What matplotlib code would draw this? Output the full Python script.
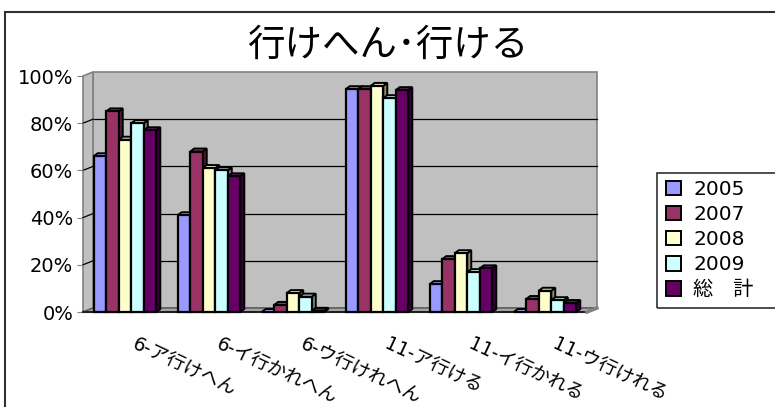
import numpy as np
import matplotlib.pyplot as plt
from matplotlib.patches import Polygon, Rectangle, Patch
from matplotlib import colors as mcolors

plt.rcParams['font.family'] = ['DejaVu Sans', 'Noto Sans CJK JP']

title = '行けへん･行ける'
categories = ['6-ア行けへん', '6-イ行かれへん', '6-ウ行けれへん',
              '11-ア行ける', '11-イ行かれる', '11-ウ行けれる']
series = ['2005', '2007', '2008', '2009', '総　計']
v2005 = [0.66, 0.41, 0.00, 0.944, 0.118, 0.00]
v2007 = [0.85, 0.68, 0.03, 0.944, 0.224, 0.055]
v2008 = [0.73, 0.61, 0.08, 0.958, 0.249, 0.09]
v2009 = [0.80, 0.60, 0.065, 0.906, 0.169, 0.05]
vtotal = [0.77, 0.575, 0.005, 0.94, 0.185, 0.038]
values = [v2005, v2007, v2008, v2009, vtotal]
colors = ['#9999FF', '#993366', '#FFFFCC', '#CCFFFF', '#660066']

W, H = 775, 407
fig = plt.figure(figsize=(W / 100, H / 100), dpi=100)


def fpx(x, y):
    return x / W, 1 - y / H


# front plane of the plot area
left, right, top, bottom = 83, 587, 76, 312
ax = fig.add_axes([left / W, (H - bottom) / H, (right - left) / W, (bottom - top) / H])
n = len(categories)
ax.set_xlim(0, n)
ax.set_ylim(0, 1)
ax.set_facecolor('none')

ppx = (right - left) / n        # pixels per x unit
ppy = (bottom - top)            # pixels per y unit
wdx, wdy = 10 / ppx, 4 / ppy    # wall depth
bdx, bdy = 4 / ppx, 3 / ppy     # bar depth

wall = '#C0C0C0'
# back wall, left wall and floor
ax.add_patch(Polygon([(wdx, wdy), (n + wdx, wdy), (n + wdx, 1 + wdy), (wdx, 1 + wdy)],
                     closed=True, fc=wall, ec='#808080', lw=1.2, zorder=0, clip_on=False))
ax.add_patch(Polygon([(0, 0), (wdx, wdy), (wdx, 1 + wdy), (0, 1)],
                     closed=True, fc=wall, ec='#808080', lw=1.2, zorder=1, clip_on=False))
ax.add_patch(Polygon([(0, 0), (n, 0), (n + wdx, wdy), (wdx, wdy)],
                     closed=True, fc='#A8A8A8', ec='#606060', lw=1.2, zorder=1, clip_on=False))
ax.plot([0, n], [0, 0], color='#202020', lw=1.5, zorder=2, clip_on=False)
ax.plot([n, n + wdx], [0, wdy], color='#808080', lw=2.5, zorder=2, clip_on=False)

ticks = np.arange(0, 1.01, 0.2)
for t in ticks[1:-1]:
    ax.plot([wdx, n + wdx], [t + wdy, t + wdy], color='black', lw=0.9, zorder=0.5, clip_on=False)
    ax.plot([0, wdx], [t, t + wdy], color='black', lw=0.9, zorder=1.5, clip_on=False)

# 3D columns
bw = 0.149
z = 3
for i in range(n):
    for j, (vals, c) in enumerate(zip(values, colors)):
        h = vals[i]
        x0 = i + 0.5 - 2.5 * bw + j * bw
        rgb = np.array(mcolors.to_rgb(c))
        side = rgb * 0.55
        topc = np.clip(rgb * 0.85 + 0.1, 0, 1)
        ax.add_patch(Polygon([(x0 + bw, 0), (x0 + bw + bdx, bdy), (x0 + bw + bdx, h + bdy), (x0 + bw, h)],
                             closed=True, fc=side, ec='black', lw=1.4, zorder=z, clip_on=False))
        ax.add_patch(Polygon([(x0, h), (x0 + bw, h), (x0 + bw + bdx, h + bdy), (x0 + bdx, h + bdy)],
                             closed=True, fc=topc, ec='black', lw=1.4, zorder=z, clip_on=False))
        ax.bar(x0, h, width=bw, align='edge', color=c, edgecolor='black', lw=1.6,
               zorder=z + 0.5, clip_on=False)
        z += 1

for s in ['top', 'right', 'bottom', 'left']:
    ax.spines[s].set_visible(False)
ax.set_yticks(ticks)
ax.set_yticklabels(['{:.0%}'.format(t) for t in ticks], fontsize=14)
ax.tick_params(axis='y', length=4, color='#808080', pad=3)
ax.set_xticks([])

for i, cat in enumerate(categories):
    ax.text(i + 0.6, -0.13, cat, fontsize=13.5, rotation=-25, rotation_mode='anchor',
            ha='left', va='center', clip_on=False)

fig.text(*fpx(388, 46), title, fontsize=27, ha='center', va='center')

# outer chart border
fig.patches.append(Rectangle(fpx(5, 420), 800 / W, 408 / H, transform=fig.transFigure,
                             fill=False, ec='#303030', lw=1.5))

handles = [Patch(fc=c, ec='black', lw=1.4) for c in colors]
fig.legend(handles, series, loc='upper left', bbox_to_anchor=fpx(662, 176),
           frameon=False, fontsize=14.5, handlelength=0.75,
           handleheight=0.75, handletextpad=0.6, labelspacing=0.3, borderaxespad=0,
           borderpad=0.2)
fig.patches.append(Rectangle(fpx(657, 308), 140 / W, 135 / H, transform=fig.transFigure,
                             fill=False, ec='#303030', lw=1.2))

fig.savefig('out.png', dpi=100)
